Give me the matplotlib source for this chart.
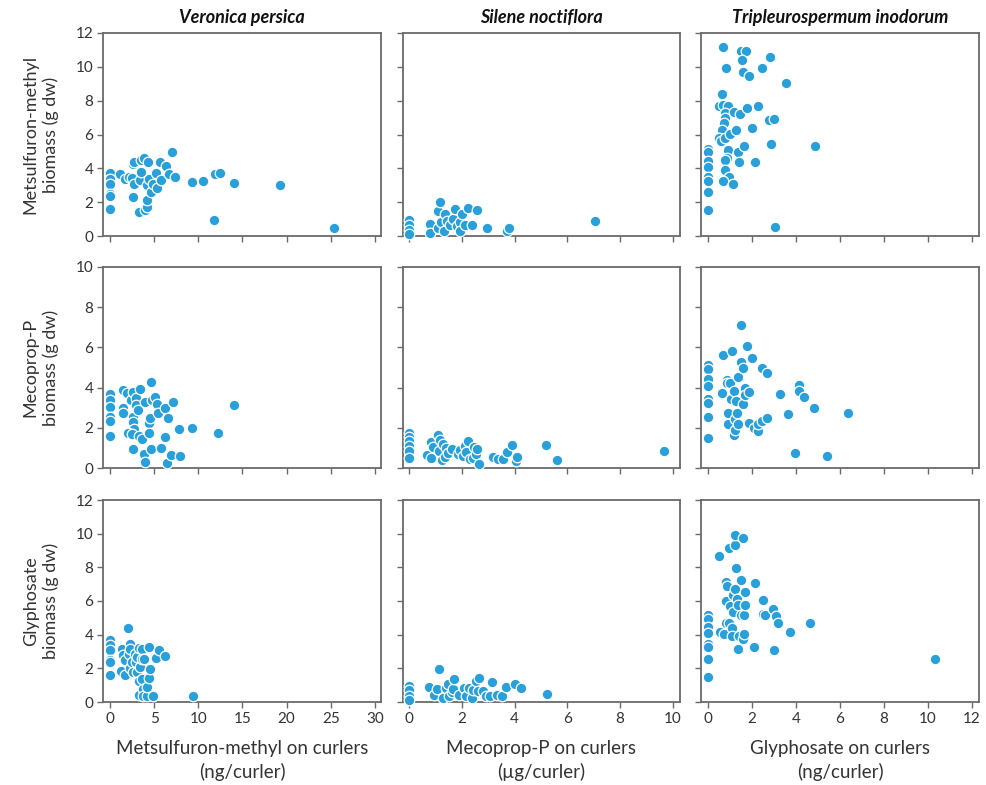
import numpy as np
import matplotlib
matplotlib.use("Agg")
import matplotlib.pyplot as plt

plt.rcParams['font.family'] = ['Lato', 'DejaVu Sans']

species = ["Veronica persica", "Silene noctiflora", "Tripleurospermum inodorum"]
row_labels = ["Metsulfuron-methyl\nbiomass (g dw)",
              "Mecoprop-P\nbiomass (g dw)",
              "Glyphosate\nbiomass (g dw)"]
col_xlabels = ["Metsulfuron-methyl on curlers\n(ng/curler)",
               "Mecoprop-P on curlers\n(µg/curler)",
               "Glyphosate on curlers\n(ng/curler)"]
col_xticks = [np.arange(0, 31, 5), np.arange(0, 11, 2), np.arange(0, 13, 2)]
col_xlims = [(-0.8, 30.7), (-0.23, 10.27), (-0.32, 12.32)]
row_ymax = [12, 10, 12]

# metsulfuron-methyl
vp_met_x = [0, 0, 0, 0, 0, 0, 1.1, 1.7, 2.1, 2.55, 2.7, 2.45, 2.7, 2.6, 3.3, 3.4, 3.5, 3.5, 3.8,
            3.96, 4.15, 4.2, 4.3, 4.15, 4.4, 4.6, 4.9, 5.2, 5.3, 5.66, 5.8, 6.3, 6.7, 7.0, 7.35,
            9.3, 10.5, 11.8, 11.9, 12.5, 14.1, 19.2, 25.4]
vp_met_y = [3.7, 3.35, 3.05, 2.5, 2.37, 1.62, 3.65, 3.35, 3.5, 4.23, 4.4, 3.4, 3.05, 2.3, 1.42,
            3.3, 3.8, 4.5, 4.6, 1.56, 1.7, 2.1, 4.4, 3.0, 3.35, 2.6, 3.05, 3.7, 2.85, 4.35, 3.3,
            4.13, 3.64, 4.94, 3.46, 3.2, 3.26, 0.93, 3.66, 3.74, 3.16, 3.04, 0.47]
sn_met_x = [0, 0, 0, 0, 0.8, 0.8, 1.1, 1.1, 1.17, 1.2, 1.36, 1.43, 1.32, 1.55, 1.65, 1.75, 1.83,
            1.93, 1.93, 2.0, 2.12, 2.25, 2.37, 2.58, 2.94, 3.7, 3.78, 7.04]
sn_met_y = [0.93, 0.63, 0.34, 0.14, 0.69, 0.2, 1.48, 0.49, 2.02, 0.83, 1.28, 0.89, 0.3, 0.63,
            1.03, 1.58, 0.57, 0.83, 0.28, 1.28, 0.63, 1.64, 0.63, 1.56, 0.49, 0.3, 0.47, 0.89]
ti_met_x = [0, 0, 0, 0, 0, 0, 0, 0, 0.48, 0.66, 0.63, 0.68, 0.9, 0.79, 0.79, 0.74, 0.63, 0.51,
            0.6, 0.79, 0.83, 1.0, 0.89, 0.85, 0.79, 0.79, 0.94, 0.68, 1.13, 1.19, 1.28, 1.34,
            1.39, 1.47, 1.5, 1.74, 1.54, 1.59, 1.84, 1.63, 1.78, 1.99, 2.14, 2.25, 2.45, 2.8,
            2.75, 3.02, 2.87, 3.05, 3.55, 4.85]
ti_met_y = [5.14, 4.94, 4.45, 4.09, 3.46, 3.26, 2.61, 1.52, 7.7, 11.2, 8.4, 7.75, 7.69, 7.25,
            6.96, 6.66, 6.25, 5.77, 5.6, 5.77, 9.92, 6.05, 5.08, 4.62, 4.49, 3.93, 3.5, 3.28,
            3.1, 7.35, 6.25, 4.94, 4.39, 7.19, 10.95, 10.95, 10.41, 9.72, 9.47, 5.32, 7.55,
            6.36, 4.39, 7.7, 9.92, 10.57, 6.86, 6.92, 5.43, 0.51, 9.07, 5.34]

# mecoprop-P
vp_mec_x = [0, 0, 0, 0, 0, 0, 1.43, 1.43, 1.5, 1.96, 2.38, 2.57, 2.57, 2.57, 2.72, 2.08, 2.45,
            2.64, 2.94, 2.94, 3.13, 3.4, 3.28, 3.66, 3.81, 3.96, 4.0, 4.4, 4.45, 4.53, 4.64, 4.68,
            4.7, 5.1, 5.36, 5.43, 5.8, 6.2, 6.26, 6.4, 6.57, 6.94, 7.17, 7.85, 7.92, 9.3, 12.2,
            14.1]
vp_mec_y = [3.69, 3.36, 3.02, 2.53, 2.35, 1.59, 3.87, 3.0, 2.73, 3.75, 3.39, 3.77, 2.56, 2.28,
            1.93, 1.74, 1.69, 0.96, 3.47, 3.11, 2.89, 3.92, 1.57, 1.44, 0.71, 0.3, 3.27, 2.23,
            1.74, 2.51, 4.28, 0.96, 3.36, 3.55, 3.16, 2.73, 0.99, 2.98, 1.55, 0.25, 2.51, 0.64,
            3.29, 1.93, 0.58, 2.0, 1.72, 3.14]
sn_mec_x = [0, 0, 0, 0, 0, 0, 0.67, 0.85, 0.85, 0.92, 1.11, 1.15, 1.17, 1.24, 1.3, 1.36, 1.4,
            1.49, 1.61, 1.87, 1.93, 2.06, 2.12, 2.16, 2.25, 2.31, 2.44, 2.46, 2.52, 2.58, 2.66,
            3.2, 3.38, 3.57, 3.73, 3.92, 4.05, 4.1, 5.18, 5.59, 9.65]
sn_mec_y = [1.74, 1.52, 1.32, 1.07, 0.83, 0.48, 0.66, 1.27, 0.5, 1.02, 1.65, 0.83, 1.4, 0.41,
            1.19, 0.55, 0.99, 0.74, 0.94, 0.69, 0.91, 0.58, 1.07, 0.79, 1.34, 0.46, 0.5, 1.02,
            0.71, 0.94, 0.2, 0.53, 0.45, 0.46, 0.79, 1.14, 0.33, 0.55, 1.14, 0.4, 0.83]
ti_mec_x = [0, 0, 0, 0, 0, 0, 0, 0, 0.63, 0.69, 0.86, 0.88, 1.01, 0.89, 0.89, 1.09, 1.06, 1.16,
            1.16, 1.21, 1.24, 1.28, 1.31, 1.36, 1.37, 1.48, 1.5, 1.59, 1.59, 1.66, 1.69, 1.78,
            1.84, 1.84, 1.99, 2.07, 2.27, 2.27, 2.45, 2.45, 2.67, 2.69, 3.28, 3.63, 3.96, 4.14,
            4.15, 4.35, 4.83, 5.41, 6.37]
ti_mec_y = [5.12, 4.93, 4.43, 4.07, 3.44, 3.24, 2.56, 1.49, 3.72, 5.64, 4.36, 4.21, 4.23, 2.73,
            2.2, 5.8, 3.44, 3.83, 1.65, 1.9, 2.45, 3.34, 2.74, 2.18, 4.53, 7.09, 5.27, 4.99,
            3.17, 3.97, 3.64, 6.05, 3.8, 2.23, 5.45, 1.98, 1.85, 2.18, 4.99, 2.36, 4.73, 2.51,
            3.69, 2.68, 0.76, 4.12, 3.82, 3.54, 2.98, 0.61, 2.73]

# glyphosate
vp_gly_x = [0, 0, 0, 0, 0, 0, 1.25, 1.4, 1.51, 1.74, 1.74, 2.08, 2.15, 2.26, 2.26, 2.26, 2.45,
            2.57, 2.83, 2.94, 3.02, 3.02, 3.25, 3.28, 3.28, 3.4, 3.58, 3.66, 3.58, 3.7, 3.7,
            3.85, 4.15, 4.23, 4.42, 4.45, 4.53, 4.83, 5.25, 5.55, 6.23, 9.36]
vp_gly_y = [3.71, 3.37, 3.06, 2.52, 2.36, 1.59, 1.85, 3.12, 2.82, 2.48, 1.59, 4.4, 2.88, 3.47,
            3.17, 2.02, 2.38, 1.79, 2.88, 2.38, 2.68, 1.79, 3.21, 1.25, 0.44, 2.08, 3.13, 2.56,
            1.35, 0.77, 0.34, 2.58, 0.36, 0.91, 3.27, 1.43, 1.96, 0.36, 2.64, 3.08, 2.72, 0.36]
sn_gly_x = [0, 0, 0, 0, 0.76, 0.93, 1.05, 1.12, 1.3, 1.39, 1.49, 1.53, 1.61, 1.68, 1.71, 1.89,
            2.08, 2.14, 2.28, 2.37, 2.43, 2.53, 2.66, 2.62, 2.81, 2.91, 3.06, 3.16, 3.35, 3.54,
            3.66, 4.02, 4.26, 5.23]
sn_gly_y = [0.93, 0.69, 0.36, 0.1, 0.89, 0.44, 0.79, 1.94, 0.26, 0.83, 1.09, 0.36, 0.6, 0.79,
            1.39, 0.44, 0.85, 0.34, 0.83, 0.26, 0.69, 1.23, 1.43, 0.65, 0.65, 0.36, 0.36, 1.19,
            0.44, 0.36, 0.87, 1.07, 0.83, 0.48]
ti_gly_x = [0, 0, 0, 0, 0, 0, 0, 0, 0.51, 0.54, 0.72, 0.8, 0.88, 0.8, 0.83, 0.94, 0.94, 0.98,
            1.07, 1.1, 1.13, 1.15, 1.21, 1.22, 1.24, 1.28, 1.31, 1.36, 1.36, 1.4, 1.49, 1.49,
            1.57, 1.59, 1.62, 1.63, 1.69, 1.69, 2.11, 2.14, 2.52, 2.48, 2.61, 2.94, 3.02, 3.11,
            3.2, 3.72, 4.65, 10.32]
ti_gly_y = [5.16, 4.96, 4.44, 4.11, 3.45, 3.25, 2.58, 1.51, 8.69, 4.13, 4.05, 7.1, 6.92, 5.99,
            4.72, 4.72, 9.17, 5.69, 4.42, 3.91, 6.35, 5.32, 9.33, 9.92, 6.69, 7.94, 6.11, 5.79,
            3.17, 3.91, 7.22, 5.16, 9.76, 3.77, 4.01, 5.16, 6.53, 5.79, 3.25, 7.06, 6.03, 5.2,
            5.16, 5.52, 3.1, 5.1, 4.72, 4.13, 4.7, 2.54]

panels = [
    [(vp_met_x, vp_met_y), (sn_met_x, sn_met_y), (ti_met_x, ti_met_y)],
    [(vp_mec_x, vp_mec_y), (sn_mec_x, sn_mec_y), (ti_mec_x, ti_mec_y)],
    [(vp_gly_x, vp_gly_y), (sn_gly_x, sn_gly_y), (ti_gly_x, ti_gly_y)],
]

W, H = 987, 785
fig = plt.figure(figsize=(W / 100, H / 100), dpi=100)

# axes boxes in pixels: (left, right) per column, (top, bottom) per row
col_px = [(103, 381), (403, 680), (701, 979)]
row_px = [(33, 236), (267, 468), (500, 702)]

dot_color = "#2aa0da"
spine_color = "#6a6a6a"
text_color = "#333333"

for r in range(3):
    for c in range(3):
        l, rr = col_px[c]
        t, b = row_px[r]
        ax = fig.add_axes([l / W, 1 - b / H, (rr - l) / W, (b - t) / H])
        x, y = panels[r][c]
        ax.scatter(x, y, s=58, color=dot_color, edgecolor="white", linewidth=0.9, zorder=3,
                   clip_on=False)
        ax.set_xlim(*col_xlims[c])
        ax.set_ylim(0, row_ymax[r])
        ax.set_xticks(col_xticks[c])
        ax.set_yticks(np.arange(0, row_ymax[r] + 1, 2))
        for sp in ax.spines.values():
            sp.set_color(spine_color)
            sp.set_linewidth(1.3)
        ax.tick_params(direction="out", length=4, width=1, color=spine_color,
                       labelsize=11, labelcolor=text_color, pad=3)
        if c != 0:
            ax.tick_params(labelleft=False)
        if r != 2:
            ax.tick_params(labelbottom=False)
        else:
            ax.set_xlabel(col_xlabels[c], fontsize=13.5, color=text_color, labelpad=10,
                          linespacing=1.4)
        if r == 0:
            ax.set_title(species[c], fontsize=13, fontweight="bold", fontstyle="italic",
                         color="#111111", pad=7)
        if c == 0:
            fig.text(41 / W, 1 - (t + b) / 2 / H, row_labels[r], rotation=90, ha="center",
                     va="center", fontsize=13, color=text_color, linespacing=1.3)

fig.savefig("out.png", dpi=100)
